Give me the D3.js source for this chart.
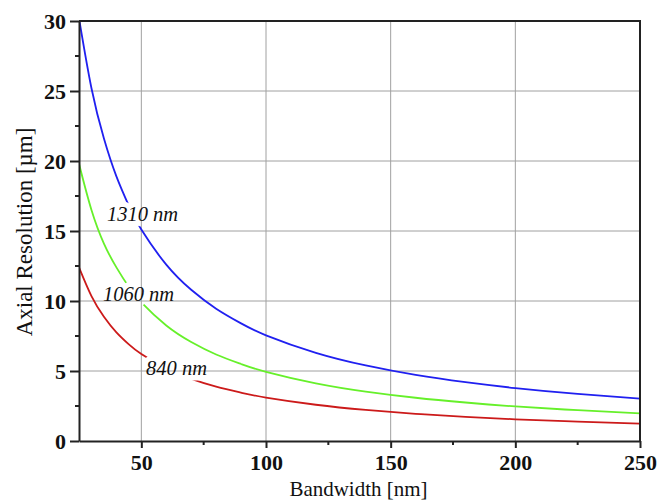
<!DOCTYPE html>
<html>
<head>
<meta charset="utf-8">
<script src="https://cdn.jsdelivr.net/npm/d3@7"></script>
<style>
  body { margin: 0; background: #fff; }
  svg { display: block; font-family: "Liberation Serif", "DejaVu Serif", serif; }
</style>
</head>
<body>
<div class="chart"></div>
<script>
// values
const bandwidth = [25, 30, 35, 40, 45, 50, 60, 70, 80, 90, 100, 120, 140, 160, 180, 200, 225, 250]
const res1310 = [30.2, 25.2, 21.6, 18.9, 16.8, 15.1, 12.6, 10.8, 9.45, 8.4, 7.55, 6.3, 5.4, 4.72, 4.2, 3.78, 3.36, 3.02]
const res1060 = [19.8, 16.5, 14.1, 12.4, 11.0, 9.9, 8.25, 7.07, 6.18, 5.5, 4.94, 4.12, 3.53, 3.09, 2.75, 2.47, 2.2, 1.98]
const res840 = [12.4, 10.35, 8.87, 7.76, 6.9, 6.21, 5.18, 4.44, 3.88, 3.45, 3.1, 2.59, 2.22, 1.94, 1.72, 1.55, 1.38, 1.24]

const xTicks = [50, 100, 150, 200, 250]
const xMinor = [75, 125, 175, 225]
const yTicks = [0, 5, 10, 15, 20, 25, 30]
const yMinor = [2.5, 7.5, 12.5, 17.5, 22.5, 27.5]

const series = [
  {name: '1310 nm', values: res1310, color: '#2020f0', label: [36.2, 15.7]},
  {name: '1060 nm', values: res1060, color: '#66f02a', label: [34.6, 10.0]},
  {name: '840 nm', values: res840, color: '#cc1a1a', label: [51.9, 4.7]}
]

const width = 670, height = 501
const margin = {top: 21, right: 30, bottom: 60, left: 79}
const w = width - margin.left - margin.right
const h = height - margin.top - margin.bottom

const x = d3.scaleLinear().domain([25, 250]).range([0, w])
const y = d3.scaleLinear().domain([0, 30]).range([h, 0])

const svg = d3.select('.chart')
  .append('svg')
  .attr('width', width)
  .attr('height', height)

const g = svg.append('g')
  .attr('transform', `translate(${margin.left},${margin.top})`)

// grid
g.append('g')
  .selectAll('line')
  .data(xTicks.filter(d => d < 250))
  .enter()
  .append('line')
  .attr('x1', d => x(d)).attr('x2', d => x(d))
  .attr('y1', 0).attr('y2', h)
  .style('stroke', '#a0a0a0')
  .style('stroke-width', 1)

g.append('g')
  .selectAll('line')
  .data(yTicks.filter(d => d > 0 && d < 30))
  .enter()
  .append('line')
  .attr('x1', 0).attr('x2', w)
  .attr('y1', d => y(d)).attr('y2', d => y(d))
  .style('stroke', '#a0a0a0')
  .style('stroke-width', 1)

// mask so curves break around their labels
const defs = svg.append('defs')
defs.append('clipPath').attr('id', 'plot-clip')
  .append('rect').attr('width', w).attr('height', h)

const mask = defs.append('mask').attr('id', 'label-mask')
  .attr('maskUnits', 'userSpaceOnUse')
  .attr('x', -margin.left).attr('y', -margin.top)
  .attr('width', width).attr('height', height)
mask.append('rect')
  .attr('x', -margin.left).attr('y', -margin.top)
  .attr('width', width).attr('height', height)
  .style('fill', '#fff')
mask.selectAll('text')
  .data(series)
  .enter()
  .append('text')
  .attr('x', d => x(d.label[0]))
  .attr('y', d => y(d.label[1]))
  .text(d => d.name)
  .style('font-size', '20.5px')
  .style('font-style', 'italic')
  .style('font-family', '"Liberation Serif", serif')
  .style('fill', '#000')
  .style('stroke', '#000')
  .style('stroke-width', 11)
  .style('stroke-linejoin', 'round')

const line = d3.line()
  .x((d, i) => x(bandwidth[i]))
  .y(d => y(d))
  .curve(d3.curveNatural)

g.append('g')
  .attr('clip-path', 'url(#plot-clip)')
  .append('g')
  .attr('mask', 'url(#label-mask)')
  .selectAll('path')
  .data(series)
  .enter()
  .append('path')
  .attr('d', d => line(d.values))
  .style('fill', 'none')
  .style('stroke', d => d.color)
  .style('stroke-width', 1.8)

// curve labels
g.append('g')
  .selectAll('text')
  .data(series)
  .enter()
  .append('text')
  .attr('x', d => x(d.label[0]))
  .attr('y', d => y(d.label[1]))
  .text(d => d.name)
  .style('font-size', '20.5px')
  .style('font-style', 'italic')
  .style('fill', '#111')

// axes
const xAxis = g.append('g')
  .attr('transform', `translate(0,${h})`)
  .call(d3.axisBottom(x).tickValues(xTicks).tickSize(7).tickPadding(6).tickSizeOuter(0))
xAxis.select('.domain').style('stroke', '#222').style('stroke-width', 2)
xAxis.selectAll('.tick line').style('stroke', '#222').style('stroke-width', 2)
xAxis.selectAll('text')
  .style('font-size', '22px').style('font-weight', 'bold').style('fill', '#111')
  .style('font-family', '"Liberation Serif", serif')

g.append('g')
  .attr('transform', `translate(0,${h})`)
  .selectAll('line')
  .data(xMinor)
  .enter()
  .append('line')
  .attr('x1', d => x(d)).attr('x2', d => x(d))
  .attr('y1', 0).attr('y2', 4)
  .style('stroke', '#222').style('stroke-width', 2)

const yAxis = g.append('g')
  .call(d3.axisLeft(y).tickValues(yTicks).tickSize(9).tickPadding(4).tickSizeOuter(0))
yAxis.select('.domain').style('stroke', '#222').style('stroke-width', 2)
yAxis.selectAll('.tick line').style('stroke', '#222').style('stroke-width', 2)
yAxis.selectAll('text')
  .style('font-size', '22px').style('font-weight', 'bold').style('fill', '#111')
  .style('font-family', '"Liberation Serif", serif')

g.append('g')
  .selectAll('line')
  .data(yMinor)
  .enter()
  .append('line')
  .attr('x1', -4).attr('x2', 0)
  .attr('y1', d => y(d)).attr('y2', d => y(d))
  .style('stroke', '#222').style('stroke-width', 2)

// frame top/right
g.append('path')
  .attr('d', `M0,0H${w}V${h}`)
  .style('fill', 'none')
  .style('stroke', '#222')
  .style('stroke-width', 2)

// axis titles
svg.append('text')
  .attr('x', margin.left + w / 2 - 1)
  .attr('y', 496)
  .attr('text-anchor', 'middle')
  .text('Bandwidth [nm]')
  .style('font-size', '21px')
  .style('fill', '#111')

svg.append('text')
  .attr('transform', 'translate(32,232) rotate(-90)')
  .attr('text-anchor', 'middle')
  .text('Axial Resolution [µm]')
  .style('font-size', '23px')
  .style('fill', '#111')
</script>
</body>
</html>
